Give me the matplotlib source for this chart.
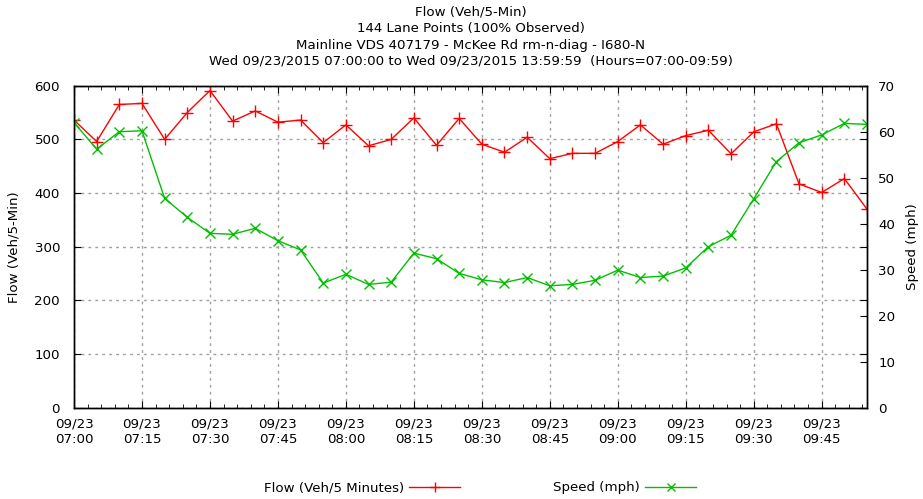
import matplotlib
matplotlib.use("Agg")
import matplotlib.pyplot as plt
import matplotlib.dates as mdates
import pandas as pd

# 5-minute samples, 07:00 .. 09:55
times = pd.date_range("2015-09-23 07:00", periods=36, freq="5min")

flow = [536, 496, 565, 567, 500, 550, 591, 534, 553, 532, 536, 494,
        527, 488, 500, 540, 489, 539, 491, 476, 504, 464, 474, 474,
        496, 527, 491, 507, 517, 473, 514, 529, 417, 401, 427, 370]

speed = [62.0, 56.2, 60.0, 60.2, 45.5, 41.4, 37.9, 37.7, 39.0, 36.3, 34.3, 27.1,
         29.0, 26.8, 27.3, 33.6, 32.4, 29.2, 27.8, 27.2, 28.3, 26.5, 26.8, 27.7,
         29.9, 28.3, 28.6, 30.4, 35.0, 37.5, 45.4, 53.5, 57.6, 59.3, 61.8, 61.6]

title_lines = [
    "Flow (Veh/5-Min)",
    "144 Lane Points (100% Observed)",
    "Mainline VDS 407179 - McKee Rd rm-n-diag - I680-N",
    "Wed 09/23/2015 07:00:00 to Wed 09/23/2015 13:59:59  (Hours=07:00-09:59)",
]

RED = "#ff0000"
GREEN = "#00c000"
GRID = "#a0a0a0"

plt.rcParams["font.family"] = ["DejaVu Sans"]
plt.rcParams["font.size"] = 9.6

fig = plt.figure(figsize=(9.23, 4.99), dpi=100)
ax = fig.add_axes([74 / 923, 1 - 407.7 / 499, 793 / 923, 322 / 499])
ax2 = ax.twinx()

ax.plot(times, flow, color=RED, lw=1.0, marker="+", ms=9, mew=1.0,
        label="Flow (Veh/5 Minutes)")
ax2.plot(times, speed, color=GREEN, lw=1.0, marker="x", ms=7, mew=1.0,
         label="Speed (mph)")

ax.set_xlim(times[0], times[-1])
ax.set_ylim(0, 600)
ax2.set_ylim(0, 70)
ax.set_yticks(range(0, 601, 100))
ax2.set_yticks(range(0, 71, 10))

ax.xaxis.set_major_locator(mdates.MinuteLocator(byminute=[0, 15, 30, 45]))
ax.xaxis.set_minor_locator(mdates.MinuteLocator(byminute=range(0, 60, 3)))
ax.xaxis.set_major_formatter(mdates.DateFormatter("%m/%d\n%H:%M"))

ax.grid(True, which="major", color=GRID, linestyle=(0, (2, 3)), lw=1.0)
ax.tick_params(axis="x", which="both", direction="in", top=True)
ax.tick_params(axis="x", which="major", length=5, pad=7)
ax.tick_params(axis="x", which="minor", length=3)
ax.tick_params(axis="y", direction="in", length=5, pad=10,
               right=True, labelright=False)
ax2.tick_params(axis="y", direction="in", length=5, pad=8)
for lab in ax.get_xticklabels():
    lab.set_linespacing(1.3)

for a in (ax, ax2):
    for s in a.spines.values():
        s.set_linewidth(1.0)

ax.set_ylabel("Flow (Veh/5-Min)")
ax2.set_ylabel("Speed (mph)")
ax.yaxis.set_label_coords(-0.067, 0.5)
ax2.yaxis.set_label_coords(1.049, 0.5)

for i, line in enumerate(title_lines):
    fig.text(470.5 / 923, 1 - (12 + 16.5 * i) / 499, line,
             ha="center", va="center")

h1, l1 = ax.get_legend_handles_labels()
h2, l2 = ax2.get_legend_handles_labels()
fig.legend(h1 + h2, l1 + l2, loc="center", bbox_to_anchor=(480 / 923, 11 / 499),
           ncol=2, markerfirst=False, frameon=False, handlelength=3.8,
           handletextpad=0.4, columnspacing=7.0, markerscale=0.8)

fig.savefig("out.png", dpi=100)
